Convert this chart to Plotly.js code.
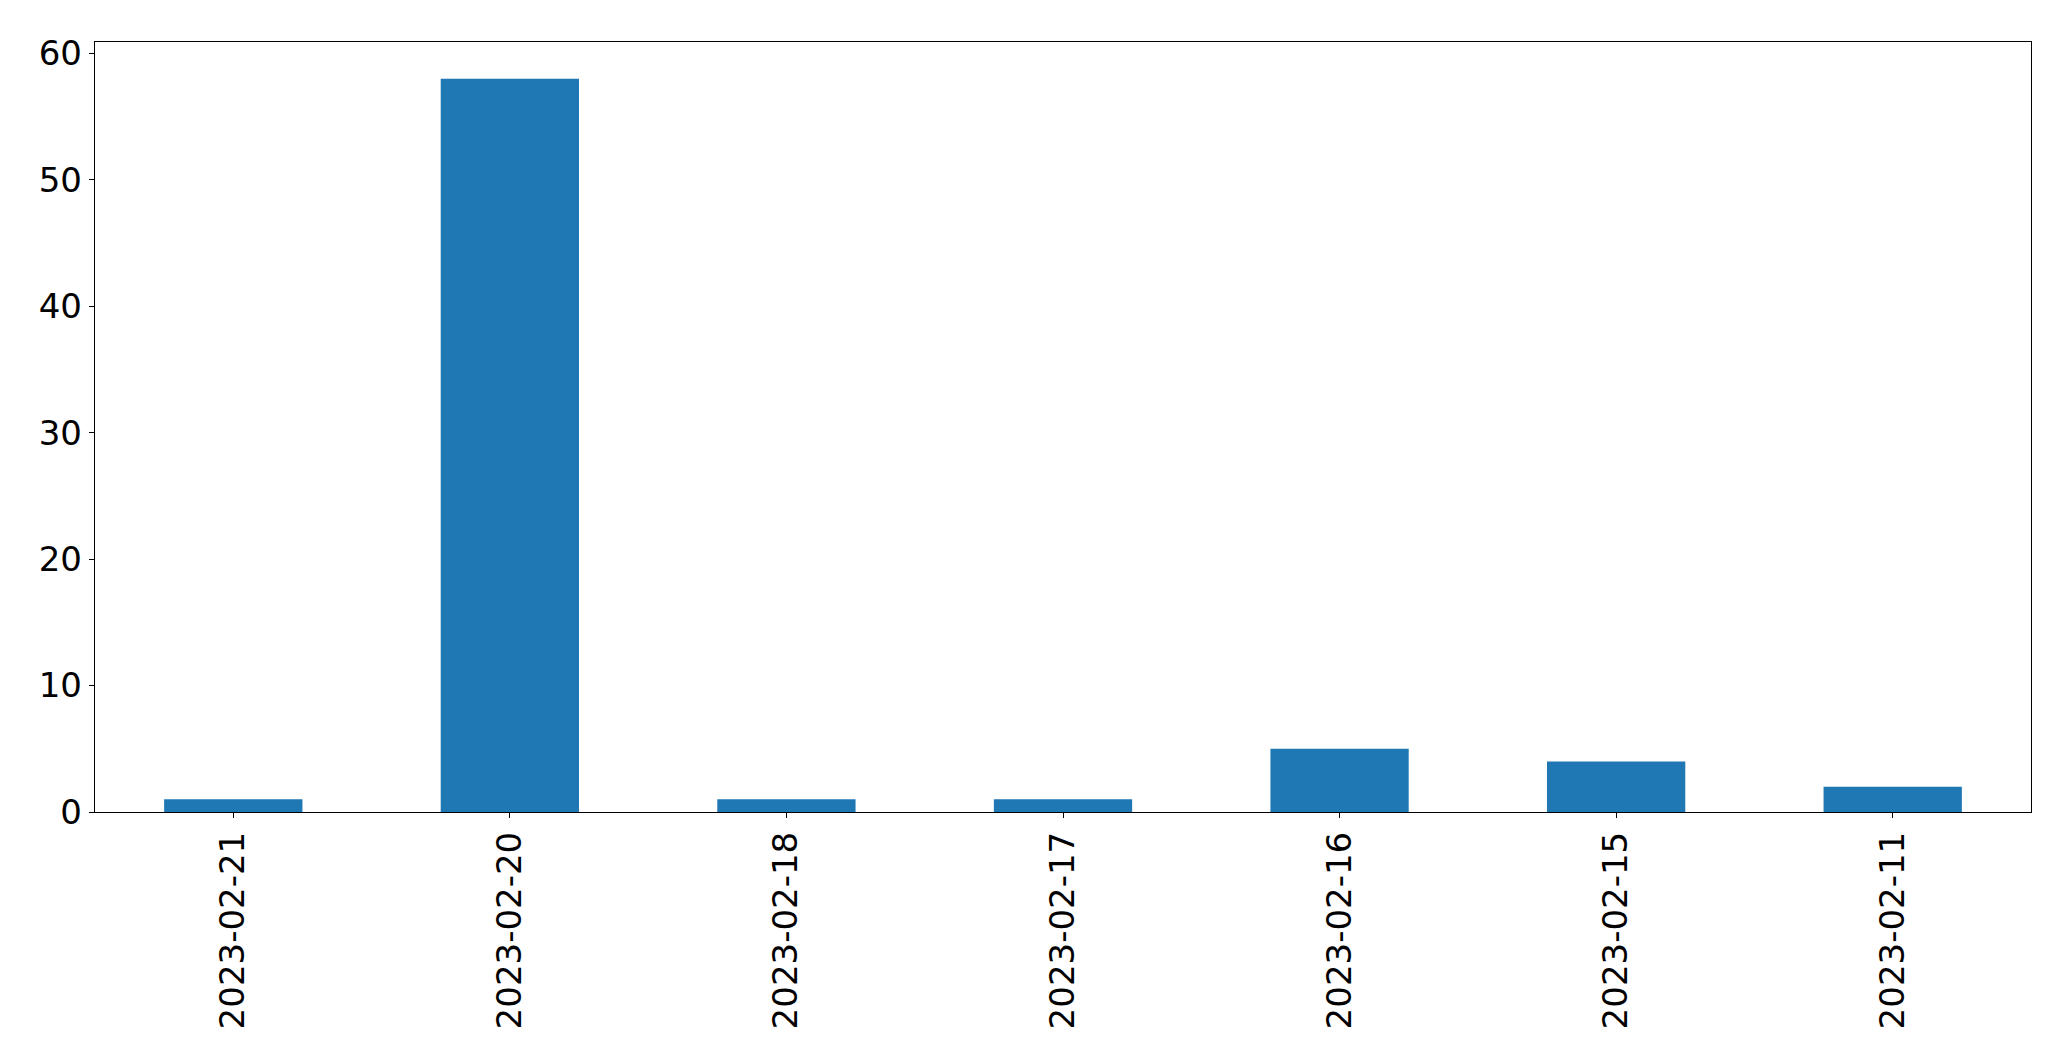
<!DOCTYPE html>
<html>
<head>
<meta charset="utf-8">
<script src="https://cdn.plot.ly/plotly-3.0.1.min.js"></script>
<style>html,body{margin:0;padding:0;background:#fff;}#chart{width:2071px;height:1064px;}</style>
</head>
<body>
<div id="chart"></div>
<script>
const categories = ["2023-02-21", "2023-02-20", "2023-02-18", "2023-02-17", "2023-02-16", "2023-02-15", "2023-02-11"];
const counts = [1, 58, 1, 1, 5, 4, 2];
const yTicks = [0, 10, 20, 30, 40, 50, 60];

const trace = {
  type: "bar",
  x: categories,
  y: counts,
  width: 0.5,
  marker: {color: "#1f77b4", line: {width: 0}},
  hoverinfo: "x+y"
};

const layout = {
  width: 2071,
  height: 1064,
  margin: {l: 94.5, r: 39.7, t: 42.3, b: 252, pad: 0},
  paper_bgcolor: "#ffffff",
  plot_bgcolor: "#ffffff",
  font: {family: "DejaVu Sans", size: 34, color: "#000000"},
  showlegend: false,
  bargap: 0.5,
  xaxis: {
    type: "category",
    range: [-0.5, 6.5],
    tickangle: -90,
    ticks: "outside",
    ticklen: 5,
    tickwidth: 1,
    tickcolor: "#000",
    showline: true,
    linecolor: "#000",
    linewidth: 1.2,
    mirror: true,
    showgrid: false,
    zeroline: false,
    tickfont: {family: "DejaVu Sans", size: 34, color: "#000"},
    ticklabelstandoff: 0
  },
  yaxis: {
    range: [0, 60.9],
    tickvals: yTicks,
    ticktext: yTicks.map(String),
    ticks: "outside",
    ticklen: 5,
    tickwidth: 1,
    tickcolor: "#000",
    showline: true,
    linecolor: "#000",
    linewidth: 1.2,
    mirror: true,
    showgrid: false,
    zeroline: false,
    tickfont: {family: "DejaVu Sans", size: 34, color: "#000"},
    ticklabelstandoff: 0
  }
};

Plotly.newPlot("chart", [trace], layout, {displayModeBar: false, staticPlot: true});
</script>
</body>
</html>
